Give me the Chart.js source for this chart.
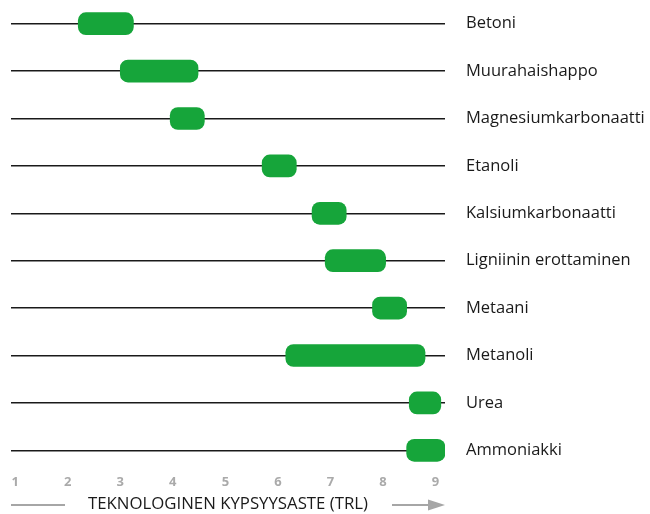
<!DOCTYPE html>
<html>
<head>
<meta charset="utf-8">
<script src="https://cdn.jsdelivr.net/npm/chart.js@4"></script>
<style>
  body { margin: 0; background: #fff; }
  #wrap { width: 650px; height: 514px; }
</style>
</head>
<body>
<div id="wrap"><canvas id="trlChart"></canvas></div>
<script>
const labels = ["Betoni", "Muurahaishappo", "Magnesiumkarbonaatti", "Etanoli", "Kalsiumkarbonaatti",
                "Ligniinin erottaminen", "Metaani", "Metanoli", "Urea", "Ammoniakki"];
const trlStart = [2.2, 3.0, 3.95, 5.7, 6.65, 6.9, 7.8, 6.15, 8.5, 8.45];
const trlEnd   = [3.25, 4.48, 4.6, 6.35, 7.3, 8.05, 8.45, 8.8, 9.1, 9.18];
const trlTicks = [1, 2, 3, 4, 5, 6, 7, 8, 9];

const FONT = "Open Sans";

// grey arrow under the x axis
const arrowPlugin = {
  id: "arrow",
  afterDraw(chart) {
    const ctx = chart.ctx;
    const a = chart.chartArea;
    const y = chart.height - 9;
    ctx.save();
    ctx.strokeStyle = "#a6a6a6";
    ctx.fillStyle = "#a6a6a6";
    ctx.lineWidth = 2;
    ctx.beginPath();
    ctx.moveTo(a.left, y);
    ctx.lineTo(a.left + 54, y);
    ctx.moveTo(a.right - 53, y);
    ctx.lineTo(a.right - 14, y);
    ctx.stroke();
    ctx.beginPath();
    ctx.moveTo(a.right, y);
    ctx.lineTo(a.right - 17, y - 5.5);
    ctx.lineTo(a.right - 17, y + 5.5);
    ctx.closePath();
    ctx.fill();
    ctx.restore();
  }
};

const ctx = document.getElementById("trlChart").getContext("2d");
new Chart(ctx, {
  type: "bar",
  data: {
    labels: labels,
    datasets: [{
      data: labels.map((l, i) => [trlStart[i], trlEnd[i]]),
      backgroundColor: "#16a53a",
      borderRadius: 8,
      borderSkipped: false,
      barThickness: 22
    }]
  },
  options: {
    indexAxis: "y",
    responsive: true,
    maintainAspectRatio: false,
    animation: false,
    layout: { padding: { left: 11, top: 0 } },
    plugins: { legend: { display: false }, tooltip: { enabled: false } },
    scales: {
      x: {
        min: 0.92,
        max: 9.18,
        afterBuildTicks: (scale) => { scale.ticks = trlTicks.map(v => ({ value: v })); },
        afterFit: (scale) => { scale.height = 40; scale.paddingTop = 0; scale.paddingBottom = 0; },
        grid: { display: false, drawTicks: false },
        border: { display: false },
        ticks: { color: "#aaaaaa", padding: 0, maxRotation: 0, minRotation: 0, autoSkip: false,
                 font: { family: "Noto Sans", size: 13, weight: "bold" } },
        title: {
          display: true,
          text: "TEKNOLOGINEN KYPSYYSASTE (TRL)",
          color: "#1a1a1a",
          padding: { top: 2, bottom: 0 },
          font: { family: FONT, size: 16.8 }
        }
      },
      y: {
        position: "right",
        afterFit: (scale) => { scale.width = 205; scale.paddingTop = 0; scale.paddingBottom = 0; },
        grid: { offset: false, color: "#1a1a1a", lineWidth: 1.5, drawTicks: false },
        border: { display: false },
        ticks: { color: "#1a1a1a", padding: 21, font: { family: FONT, size: 16.5 } }
      }
    }
  },
  plugins: [arrowPlugin]
});
</script>
</body>
</html>
